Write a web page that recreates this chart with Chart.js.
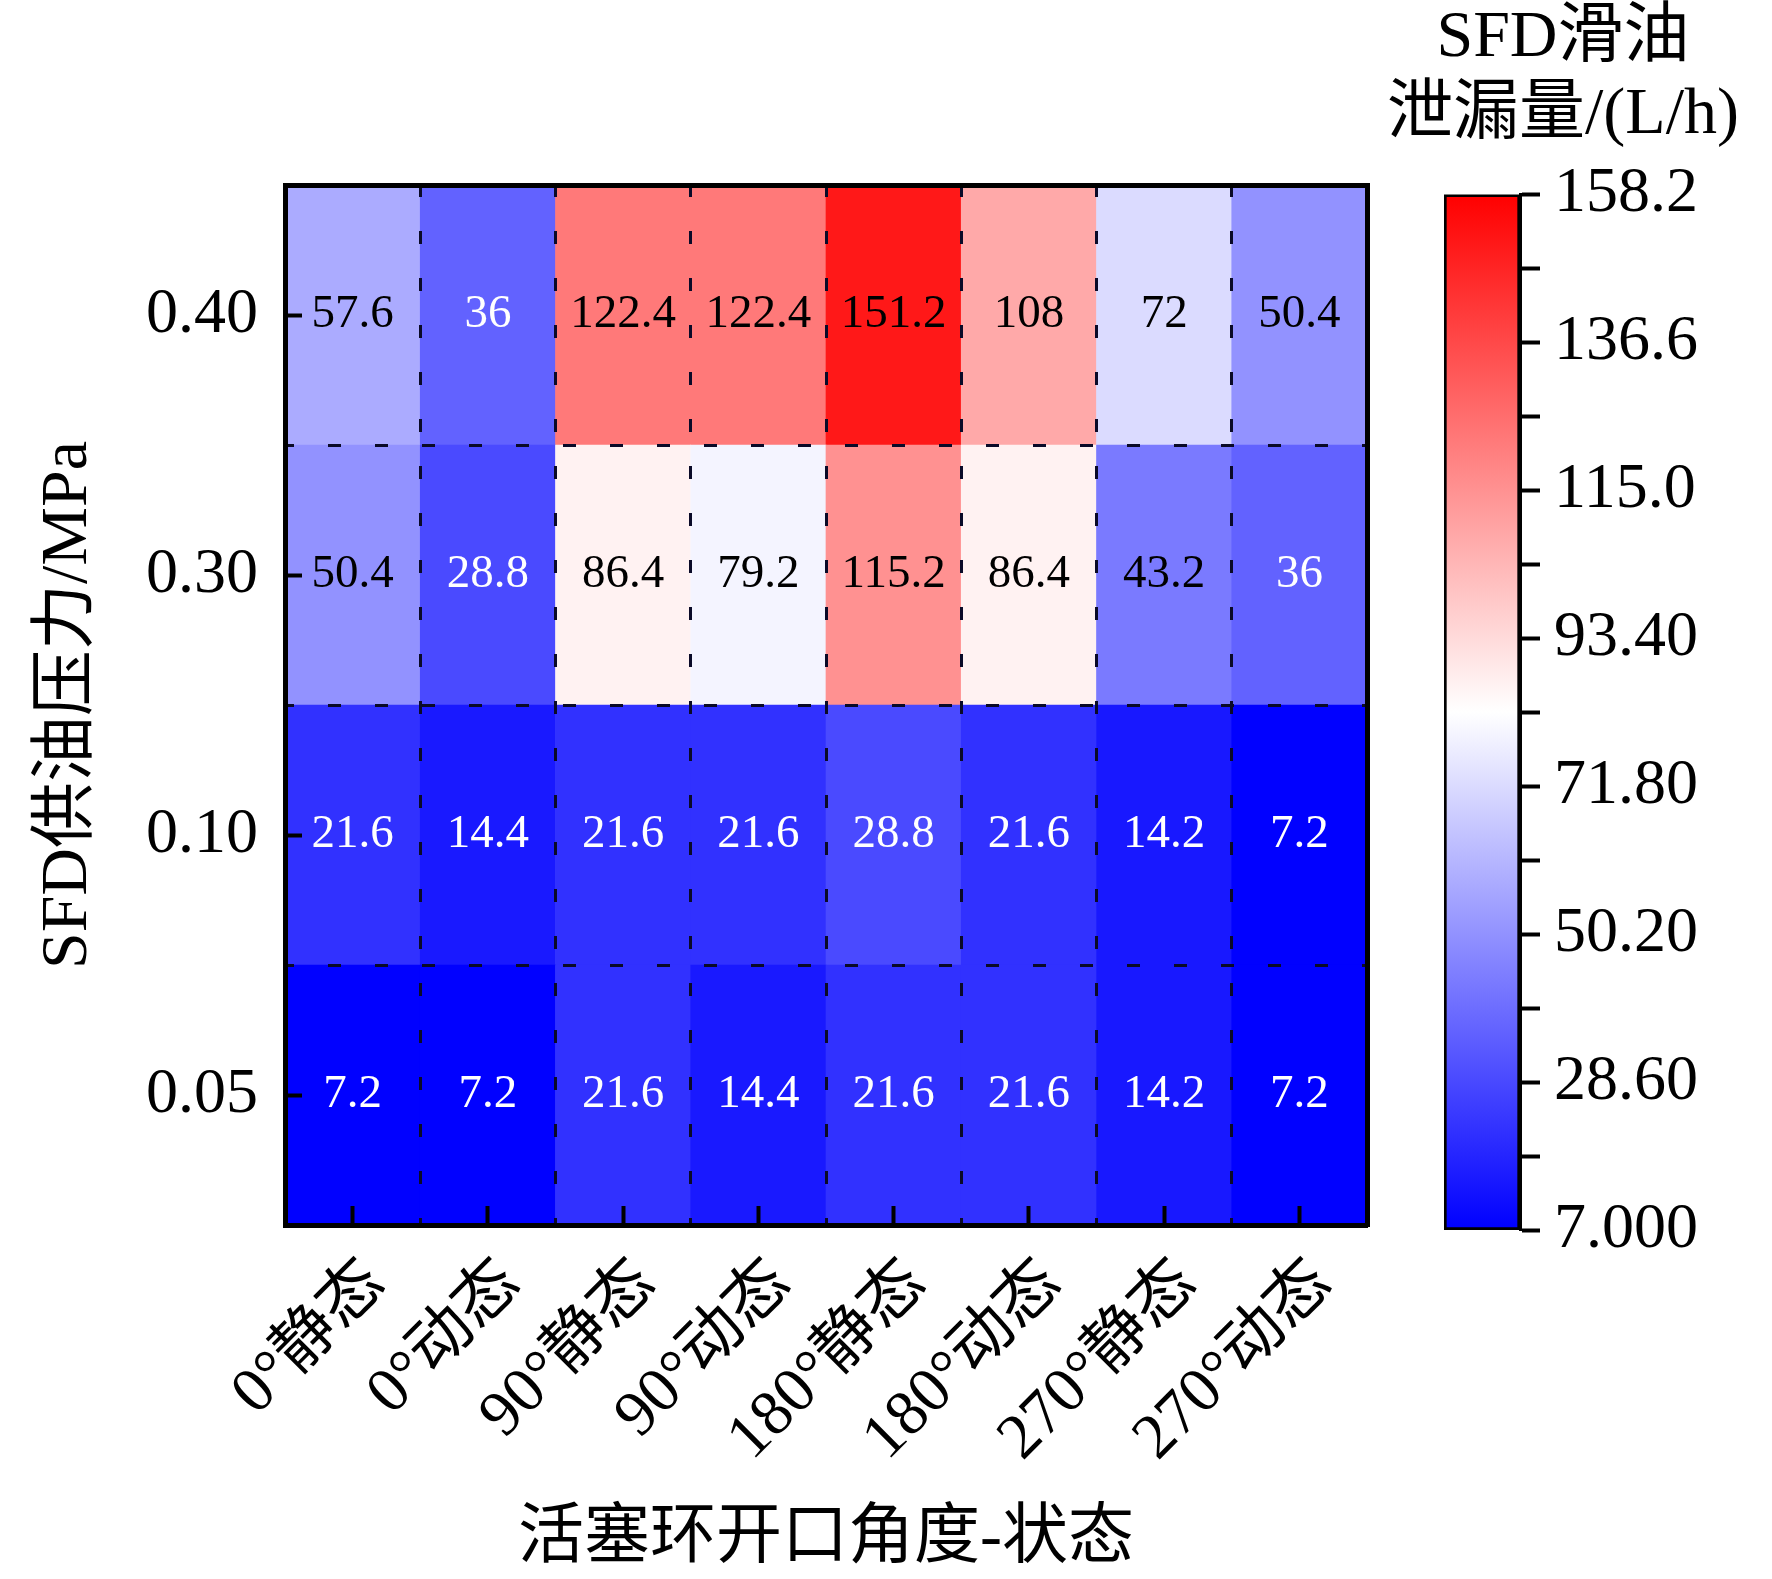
<!DOCTYPE html>
<html>
<head>
<meta charset="utf-8">
<script src="https://cdn.jsdelivr.net/npm/chart.js@4.4.0/dist/chart.umd.min.js"></script>
<style>
  html, body { margin: 0; padding: 0; background: #fff; }
  #wrap { position: relative; width: 1772px; height: 1579px; }
  #heat { position: absolute; left: 0; top: 0; }
  #bar { position: absolute; left: 1340px; top: 0; }
</style>
</head>
<body>
<div id="wrap">
  <canvas id="heat" width="1772" height="1579"></canvas>
  <canvas id="bar" width="432" height="1579"></canvas>
</div>
<script>
// 横轴：活塞环开口角度-状态
const xLabels = ['0°静态', '0°动态', '90°静态', '90°动态', '180°静态', '180°动态', '270°静态', '270°动态'];
// 纵轴：供油压力 (从下到上)
const yLabels = ['0.05', '0.10', '0.30', '0.40'];
const yTickPos = [0.5, 1.5, 2.5, 3.5];

// 泄漏量 L/h
const row005 = [7.2, 7.2, 21.6, 14.4, 21.6, 21.6, 14.2, 7.2];
const row010 = [21.6, 14.4, 21.6, 21.6, 28.8, 21.6, 14.2, 7.2];
const row030 = [50.4, 28.8, 86.4, 79.2, 115.2, 86.4, 43.2, 36];
const row040 = [57.6, 36, 122.4, 122.4, 151.2, 108, 72, 50.4];
const rows = [row005, row010, row030, row040];

// 色标
const cbMin = 7.0;
const cbMax = 158.2;
const cbTicks = [7, 17.8, 28.6, 39.4, 50.2, 61, 71.8, 82.6, 93.4, 104.2, 115, 125.8, 136.6, 147.4, 158.2];
const cbLabels = ['7.000', '', '28.60', '', '50.20', '', '71.80', '', '93.40', '', '115.0', '', '136.6', '', '158.2'];

const fam = '"Liberation Serif", "Times New Roman", "Noto Sans CJK SC", serif';
const dashed = [13, 34];

function heatColor(v) {
  let t = (v - cbMin) / (cbMax - cbMin);
  t = Math.max(0, Math.min(1, t));
  let r, g, b;
  if (t < 0.5) {
    const s = t / 0.5;
    r = g = Math.round(255 * s);
    b = 255;
  } else {
    const s = (t - 0.5) / 0.5;
    r = 255;
    g = b = Math.round(255 * (1 - s));
  }
  return 'rgb(' + r + ',' + g + ',' + b + ')';
}

// 单元格数值
const cellText = {
  id: 'cellText',
  afterDraw(chart) {
    const ctx = chart.ctx;
    ctx.save();
    ctx.font = '47px ' + fam;
    ctx.textAlign = 'center';
    ctx.textBaseline = 'middle';
    chart.data.datasets.forEach(function(ds, i) {
      chart.getDatasetMeta(i).data.forEach(function(bar, j) {
        const v = ds.values[j];
        ctx.fillStyle = v < 40 ? '#ffffff' : '#000000';
        ctx.fillText(String(v), bar.x, (bar.y + bar.base) / 2);
      });
    });
    ctx.restore();
  }
};

const datasets = rows.map(function(vals, r) {
  return {
    label: yLabels[r],
    data: vals.map(function() { return [r, r + 1]; }),
    values: vals,
    backgroundColor: vals.map(heatColor),
    borderWidth: 0,
    barPercentage: 1,
    categoryPercentage: 1,
    grouped: false,
    xAxisID: 'x',
    yAxisID: 'y'
  };
});

new Chart(document.getElementById('heat'), {
  type: 'bar',
  data: { labels: xLabels, datasets: datasets },
  plugins: [cellText],
  options: {
    responsive: false,
    animation: false,
    devicePixelRatio: 1,
    layout: { padding: { top: 185, right: 405, bottom: 0, left: 0 } },
    plugins: {
      legend: { display: false },
      tooltip: { enabled: false }
    },
    scales: {
      x: {
        type: 'category',
        position: 'bottom',
        offset: true,
        grid: { z: 1, offset: false, drawOnChartArea: false, drawTicks: true, tickLength: -19, tickWidth: 4, tickColor: '#000' },
        border: { z: 2, display: true, color: '#000', width: 5 },
        ticks: { color: '#000', font: { family: fam, size: 64 }, minRotation: 45, maxRotation: 45, padding: 40, labelOffset: 23, autoSkip: false },
        title: { display: true, text: '活塞环开口角度-状态', color: '#000', font: { family: fam, size: 66 }, padding: { top: 0, bottom: 0 } },
        afterFit(s) { s.height = 354; }
      },
      x2: {
        type: 'category',
        position: 'top',
        offset: true,
        grid: { z: 1, offset: true, drawOnChartArea: true, drawTicks: false, color: '#0a0a28', lineWidth: 3 },
        border: { z: 2, display: true, color: '#000', width: 5, dash: dashed, dashOffset: 4 },
        ticks: { display: false },
        afterFit(s) { s.height = 0; }
      },
      y: {
        type: 'linear',
        position: 'left',
        min: 0,
        max: 4,
        afterBuildTicks(s) { s.ticks = yTickPos.map(function(v) { return { value: v }; }); },
        grid: { z: 1, drawOnChartArea: false, drawTicks: true, tickLength: -17, tickWidth: 4, tickColor: '#000' },
        border: { z: 2, display: true, color: '#000', width: 5 },
        ticks: { color: '#000', font: { family: fam, size: 64 }, padding: 44, autoSkip: false,
          callback: function(v, i) { return yLabels[i]; } },
        title: { display: true, text: 'SFD供油压力/MPa', color: '#000', font: { family: fam, size: 66 }, padding: { top: 29, bottom: 0 } },
        afterFit(s) { s.width = 285; }
      },
      y2: {
        type: 'linear',
        position: 'right',
        min: 0,
        max: 4,
        ticks: { display: false, stepSize: 1 },
        grid: { z: 1, drawOnChartArea: true, drawTicks: false, color: '#0a0a28', lineWidth: 3 },
        border: { z: 2, display: true, color: '#000', width: 5, dash: dashed, dashOffset: 4 },
        afterFit(s) { s.width = 0; }
      }
    }
  }
});

// 色标条
function gradientFill(c) {
  const chart = c.chart;
  const y = chart.scales.y;
  if (!y || !chart.chartArea) return 'rgba(0,0,0,0)';
  const p0 = y.getPixelForValue(cbMin);
  const p1 = y.getPixelForValue(cbMax);
  if (!isFinite(p0) || !isFinite(p1)) return 'rgba(0,0,0,0)';
  const g = chart.ctx.createLinearGradient(0, p0, 0, p1);
  g.addColorStop(0, heatColor(cbMin));
  g.addColorStop(0.5, heatColor((cbMin + cbMax) / 2));
  g.addColorStop(1, heatColor(cbMax));
  return g;
}

new Chart(document.getElementById('bar'), {
  type: 'bar',
  data: {
    labels: [''],
    datasets: [{
      data: [[cbMin, cbMax]],
      backgroundColor: gradientFill,
      borderColor: '#000',
      borderWidth: 3,
      borderSkipped: false,
      barPercentage: 1,
      categoryPercentage: 1,
      xAxisID: 'x',
      yAxisID: 'y'
    }]
  },
  options: {
    responsive: false,
    animation: false,
    devicePixelRatio: 1,
    layout: { padding: { top: 0, right: 22, bottom: 349, left: 36 } },
    plugins: {
      legend: { display: false },
      tooltip: { enabled: false },
      title: {
        display: true,
        text: ['SFD滑油', '泄漏量/(L/h)'],
        color: '#000',
        font: { family: fam, size: 66, weight: 'normal', lineHeight: 1.17 },
        padding: { top: 0, bottom: 40 }
      }
    },
    scales: {
      x: { display: false },
      y: {
        position: 'right',
        min: cbMin,
        max: cbMax,
        afterBuildTicks(s) { s.ticks = cbTicks.map(function(v) { return { value: v }; }); },
        grid: { drawOnChartArea: false, drawTicks: true, tickLength: 20, tickWidth: 4, tickColor: '#000' },
        border: { display: true, color: '#000', width: 3 },
        ticks: { color: '#000', font: { family: fam, size: 64 }, padding: 14, autoSkip: false,
          callback: function(v, i) { return cbLabels[i]; } },
        afterFit(s) { s.width = 230; }
      },
      pad: {
        type: 'linear',
        position: 'left',
        display: true,
        min: 0,
        max: 1,
        ticks: { display: false },
        grid: { display: false },
        border: { display: false },
        afterFit(s) { s.width = 68; }
      }
    }
  }
});
</script>
</body>
</html>
